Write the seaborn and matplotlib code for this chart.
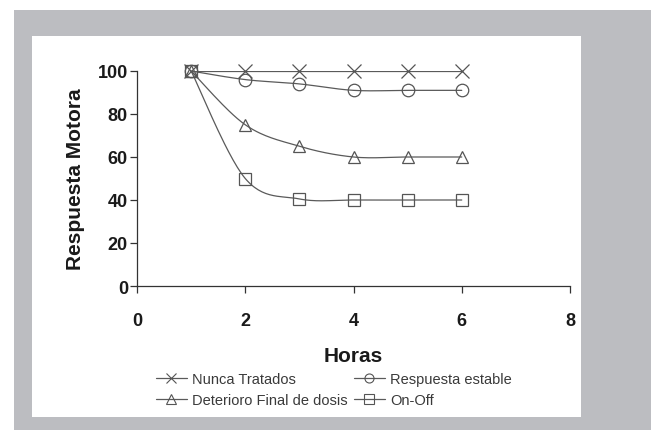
import numpy as np
import matplotlib
matplotlib.use("Agg")
import matplotlib.pyplot as plt
from matplotlib.patches import Rectangle
from matplotlib.lines import Line2D
import seaborn as sns

horas = [1, 2, 3, 4, 5, 6]
nunca_tratados = [100, 100, 100, 100, 100, 100]
respuesta_estable = [100, 96, 94, 91, 91, 91]
deterioro_final = [100, 75, 65, 60, 60, 60]
on_off = [100, 50, 40.5, 40, 40, 40]

series_names = ["Nunca Tratados", "Respuesta estable", "Deterioro Final de dosis", "On-Off"]
series_values = [nunca_tratados, respuesta_estable, deterioro_final, on_off]
series_markers = ["x", "o", "^", "s"]
x_ticks = [0, 2, 4, 6, 8]
y_ticks = [0, 20, 40, 60, 80, 100]


def smooth(xs, ys, n=30):
    # excel style smoothed line (bezier through the points)
    p = np.column_stack([xs, ys]).astype(float)
    p = np.vstack([p[0], p, p[-1]])
    out = []
    t = np.linspace(0, 1, n)[:, None]
    for i in range(1, len(p) - 2):
        p0, p1, p2, p3 = p[i - 1], p[i], p[i + 1], p[i + 2]
        c1 = p1 + (p2 - p0) / 6
        c2 = p2 - (p3 - p1) / 6
        seg = (1 - t) ** 3 * p1 + 3 * (1 - t) ** 2 * t * c1 + 3 * (1 - t) * t ** 2 * c2 + t ** 3 * p2
        out.append(seg if i == 1 else seg[1:])
    out = np.vstack(out)
    return out[:, 0], out[:, 1]


sns.set_style("ticks")
plt.rcParams["font.family"] = ["Liberation Sans", "DejaVu Sans"]

fig = plt.figure(figsize=(6.54, 4.31), dpi=100)
fig.patches.append(Rectangle((14 / 654, 0), 637 / 654, 420 / 431, transform=fig.transFigure,
                             facecolor="#bcbdc1", edgecolor="none", zorder=-10))
fig.patches.append(Rectangle((32 / 654, 13 / 431), 549 / 654, 381 / 431, transform=fig.transFigure,
                             facecolor="white", edgecolor="none", zorder=-9))

ax = fig.add_axes([137 / 654, 144 / 431, 433 / 654, 215 / 431])
ax.set_facecolor("none")

line_col = "#5a5a5a"
handles = {}
for name, vals, mk in zip(series_names, series_values, series_markers):
    sx, sy = smooth(horas, vals)
    sns.lineplot(x=sx, y=sy, ax=ax, color=line_col, linewidth=0.9, sort=False,
                 estimator=None, legend=False)
    ax.plot(horas, vals, linestyle="none", marker=mk, markersize=9 if mk != "x" else 10,
            markerfacecolor="none", markeredgecolor="#555555", markeredgewidth=0.9,
            clip_on=False, zorder=3)
    handles[name] = Line2D([], [], color=line_col, linewidth=0.9, marker=mk, markersize=6.5,
                           markerfacecolor="none", markeredgecolor="#555555",
                           markeredgewidth=0.8, label=name)

ax.set_xlim(0, 8)
ax.set_ylim(0, 100)
ax.set_xticks(x_ticks)
ax.set_yticks(y_ticks)
sns.despine(ax=ax)
for s in ["left", "bottom"]:
    ax.spines[s].set_color("#333333")
    ax.spines[s].set_linewidth(0.9)
ax.tick_params(axis="both", colors="#333333", length=5, width=0.9, labelcolor="#1a1a1a",
               labelsize=13)
ax.tick_params(axis="x", pad=14)
ax.tick_params(axis="y", pad=1.5)
for lbl in ax.get_xticklabels() + ax.get_yticklabels():
    lbl.set_fontweight("bold")

ax.set_xlabel("Horas", fontsize=15, fontweight="bold", color="#1a1a1a", labelpad=12)
ax.set_ylabel("Respuesta Motora", fontsize=15, fontweight="bold", color="#1a1a1a", labelpad=9)

# legend fills column-wise, so order gives rows: Nunca / Respuesta, Deterioro / On-Off
order = ["Nunca Tratados", "Deterioro Final de dosis", "Respuesta estable", "On-Off"]
leg = fig.legend(handles=[handles[k] for k in order], loc="upper left",
                 bbox_to_anchor=(156 / 654, 1 - 373 / 431),
                 ncol=2, frameon=False, fontsize=10.5, handlelength=2.1, handletextpad=0.4,
                 columnspacing=0.4, labelspacing=0.5, borderpad=0, borderaxespad=0)
for t in leg.get_texts():
    t.set_color("#3a3a3a")

fig.savefig("out.png", dpi=100, facecolor="white")
